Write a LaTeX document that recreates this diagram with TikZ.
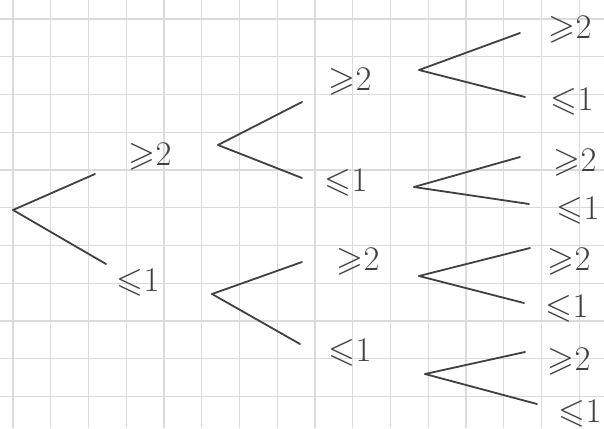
\documentclass[tikz,border=0pt]{standalone}
\usepackage{amsmath}
\usepackage{amssymb}
\usepackage{tikz}

\begin{document}
\begin{tikzpicture}[
    x=0.5pt, y=-0.5pt,
    gridline/.style = {color=black!14, line width=0.6pt},
    branch/.style   = {-, color=black!75, line width=0.9pt, line cap=round},
    lbl/.style      = {font=\LARGE, text=black!75, inner sep=1pt},
]

% --- paper and squared grid ---
\useasboundingbox[fill=white] (0,0) rectangle (604,428);
\foreach \i in {0,...,15}
    \draw[gridline] ({13+37.75*\i},0) -- ({13+37.75*\i},428);
\foreach \j in {0,...,10}
    \draw[gridline] (0,{19+37.75*\j}) -- (604,{19+37.75*\j});

% --- level 1 ---
\coordinate (r)    at (13, 210);
\coordinate (r-up) at (95, 174);
\coordinate (r-dn) at (106, 264);
\node[lbl] (ge) at (150, 157) {${\geqslant}2$};
\node[lbl] (le) at (138, 283) {${\leqslant}1$};

% --- level 2 ---
\coordinate (g)    at (218, 145);
\coordinate (g-up) at (302, 102);
\coordinate (g-dn) at (302, 178);
\node[lbl] (gge) at (350, 82)  {${\geqslant}2$};
\node[lbl] (gle) at (346, 183) {${\leqslant}1$};

\coordinate (l)    at (212, 294);
\coordinate (l-up) at (302, 262);
\coordinate (l-dn) at (300, 344);
\node[lbl] (lge) at (358, 262) {${\geqslant}2$};
\node[lbl] (lle) at (350, 353) {${\leqslant}1$};

% --- level 3 ---
\coordinate (gg)    at (419, 70);
\coordinate (gg-up) at (520, 33);
\coordinate (gg-dn) at (525, 97);
\node[lbl] (ggge) at (570, 30)  {${\geqslant}2$};
\node[lbl] (ggle) at (572, 102) {${\leqslant}1$};

\coordinate (gl)    at (414, 187);
\coordinate (gl-up) at (520, 157);
\coordinate (gl-dn) at (529, 204);
\node[lbl] (glge) at (575, 163) {${\geqslant}2$};
\node[lbl] (glle) at (578, 211) {${\leqslant}1$};

\coordinate (lg)    at (419, 276);
\coordinate (lg-up) at (530, 248);
\coordinate (lg-dn) at (524, 303);
\node[lbl] (lgge) at (569, 262) {${\geqslant}2$};
\node[lbl] (lgle) at (567, 309) {${\leqslant}1$};

\coordinate (ll)    at (425, 374);
\coordinate (ll-up) at (525, 352);
\coordinate (ll-dn) at (537, 404);
\node[lbl] (llge) at (569, 362) {${\geqslant}2$};
\node[lbl] (llle) at (580, 414) {${\leqslant}1$};

% --- branches ---
\draw[branch] (r) -- (r-up);
\draw[branch] (r) -- (r-dn);
\draw[branch] (g) -- (g-up);
\draw[branch] (g) -- (g-dn);
\draw[branch] (l) -- (l-up);
\draw[branch] (l) -- (l-dn);
\draw[branch] (gg) -- (gg-up);
\draw[branch] (gg) -- (gg-dn);
\draw[branch] (gl) -- (gl-up);
\draw[branch] (gl) -- (gl-dn);
\draw[branch] (lg) -- (lg-up);
\draw[branch] (lg) -- (lg-dn);
\draw[branch] (ll) -- (ll-up);
\draw[branch] (ll) -- (ll-dn);

\end{tikzpicture}
\end{document}
